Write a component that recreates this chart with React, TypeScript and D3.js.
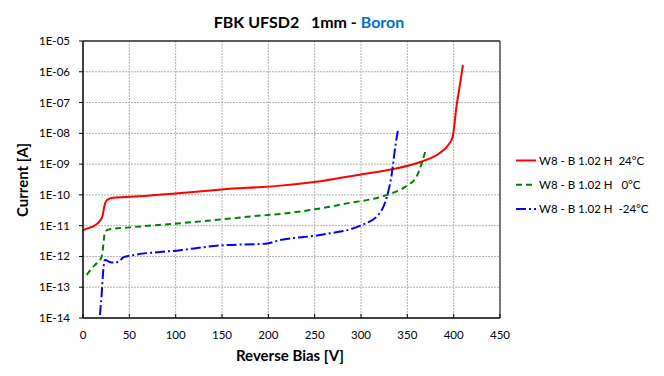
import React from "react";
import * as d3 from "d3";

// IV curves, FBK UFSD2 1mm - Boron, W8 - B 1.02 H
const red24V = [0, 5, 11, 18, 21, 23, 25, 28, 35, 60, 103, 150, 213, 260, 300, 335, 364, 385, 395, 399, 403, 407, 410];
const red24I = [7e-12, 8.2e-12, 9.5e-12, 1.4e-11, 2e-11, 4.2e-11, 6.3e-11, 7.4e-11, 8.2e-11, 9e-11, 1.13e-10, 1.5e-10, 2e-10, 2.9e-10, 4.6e-10, 6.9e-10, 1.17e-9, 2.3e-9, 4.5e-9, 7.8e-9, 7.3e-8, 4.2e-7, 1.66e-6];

const green0V = [4, 9, 14.8, 20.2, 22, 23.7, 29, 50, 105, 150, 197, 213, 250, 285, 328, 349, 360, 365.5, 370];
const green0I = [2.5e-13, 4e-13, 6e-13, 9.8e-13, 2.5e-12, 6.4e-12, 7.7e-12, 8.8e-12, 1.2e-11, 1.6e-11, 2.2e-11, 2.4e-11, 3.4e-11, 5.3e-11, 1e-10, 1.95e-10, 3.9e-10, 1.07e-9, 3e-9];

const blueM24V = [18.3, 20.2, 21.9, 23.7, 31, 38, 43.5, 47, 105, 150, 197, 213, 256, 301, 320, 328, 333, 337, 340];
const blueM24I = [1.25e-14, 6.3e-14, 3.6e-13, 7.6e-13, 6.3e-13, 6.6e-13, 9.3e-13, 1e-12, 1.6e-12, 2.3e-12, 2.6e-12, 3.4e-12, 5e-12, 1.05e-11, 2.5e-11, 8.8e-11, 4.4e-10, 3.7e-9, 1.36e-8];

const xTicks = [0, 50, 100, 150, 200, 250, 300, 350, 400, 450];
const yTicks = [1e-5, 1e-6, 1e-7, 1e-8, 1e-9, 1e-10, 1e-11, 1e-12, 1e-13, 1e-14];

const series = [
  { name: "W8 - B 1.02 H\u00a0\u00a024°C", v: red24V, i: red24I, color: "#ff0000", dash: "" },
  { name: "W8 - B 1.02 H\u00a0\u00a0\u00a00°C", v: green0V, i: green0I, color: "#008000", dash: "6,4" },
  { name: "W8 - B 1.02 H\u00a0\u00a0-24°C", v: blueM24V, i: blueM24I, color: "#0000ff", dash: "10,3,2,3" },
];

const font = "Lato, 'Open Sans', sans-serif";

const fmtExp = (d: number) => {
  const e = Math.round(Math.log10(d));
  const s = Math.abs(e) < 10 ? "0" + Math.abs(e) : "" + Math.abs(e);
  return "1E" + (e < 0 ? "-" : "+") + s;
};

export default function App() {
  const W = 664, H = 376;
  const left = 83, right = 500, top = 41, bottom = 318;
  const x = d3.scaleLinear().domain([0, 450]).range([left, right]);
  const y = d3.scaleLog().domain([1e-14, 1e-5]).range([bottom, top]);

  const line = d3
    .line<[number, number]>()
    .x((d) => x(d[0]))
    .y((d) => y(d[1]))
    .curve(d3.curveMonotoneX);

  return (
    <svg width={W} height={H} style={{ position: "absolute", left: 0, top: 0, background: "#fff" }} fontFamily={font}>
      {/* title */}
      <text x={309} y={28} textAnchor="middle" fontSize={16} fontWeight="bold" fill="#000">
        FBK UFSD2{"\u00a0\u00a0\u00a0"}1mm - <tspan fill="#0070c0">Boron</tspan>
      </text>

      {/* grid */}
      {xTicks.slice(1).map((t) => (
        <line key={"gx" + t} x1={x(t)} x2={x(t)} y1={top} y2={bottom} stroke="#b0b0b0" strokeWidth={1} strokeDasharray="2,1" />
      ))}
      {yTicks.slice(1, -1).map((t) => (
        <line key={"gy" + t} x1={left} x2={right} y1={y(t)} y2={y(t)} stroke="#b0b0b0" strokeWidth={1} strokeDasharray="2,1" />
      ))}

      {/* plot border */}
      <line x1={left} x2={right} y1={top} y2={top} stroke="#262626" strokeWidth={1.3} />
      <line x1={right} x2={right} y1={top} y2={bottom} stroke="#404040" strokeWidth={1.3} />

      {/* curves */}
      {series.map((s) => (
        <path
          key={s.name}
          d={line(s.v.map((v, k) => [v, s.i[k]] as [number, number])) || ""}
          fill="none"
          stroke={s.color}
          strokeWidth={2}
          strokeDasharray={s.dash}
        />
      ))}

      {/* axes */}
      <line x1={left} x2={left} y1={top} y2={bottom} stroke="#000" strokeWidth={1.5} />
      <line x1={left} x2={right} y1={bottom} y2={bottom} stroke="#000" strokeWidth={1.5} />
      {yTicks.map((t) => (
        <g key={"yt" + t}>
          <line x1={left - 4} x2={left} y1={y(t)} y2={y(t)} stroke="#000" strokeWidth={1} />
          <text x={70} y={y(t)} dy="0.35em" textAnchor="end" fontSize={11.5} fill="#000">
            {fmtExp(t)}
          </text>
        </g>
      ))}
      {xTicks.map((t) => (
        <g key={"xt" + t}>
          <line x1={x(t)} x2={x(t)} y1={bottom - 4} y2={bottom} stroke="#000" strokeWidth={1} />
          <text x={x(t)} y={339} textAnchor="middle" fontSize={11.5} fill="#000">
            {t}
          </text>
        </g>
      ))}

      {/* axis titles */}
      <text x={290} y={361} textAnchor="middle" fontSize={15} fontWeight="bold" fill="#000">
        Reverse Bias [V]
      </text>
      <text transform="translate(28,180) rotate(-90)" textAnchor="middle" fontSize={15} fontWeight="bold" fill="#000">
        Current [A]
      </text>

      {/* legend */}
      {series.map((s, k) => {
        const ly = 160.5 + k * 24.3;
        return (
          <g key={"lg" + k}>
            <line x1={516} x2={536} y1={ly} y2={ly} stroke={s.color} strokeWidth={2} strokeDasharray={s.dash} />
            <text x={539} y={ly} dy="0.35em" fontSize={11.5} fill="#000">
              {s.name}
            </text>
          </g>
        );
      })}
    </svg>
  );
}
